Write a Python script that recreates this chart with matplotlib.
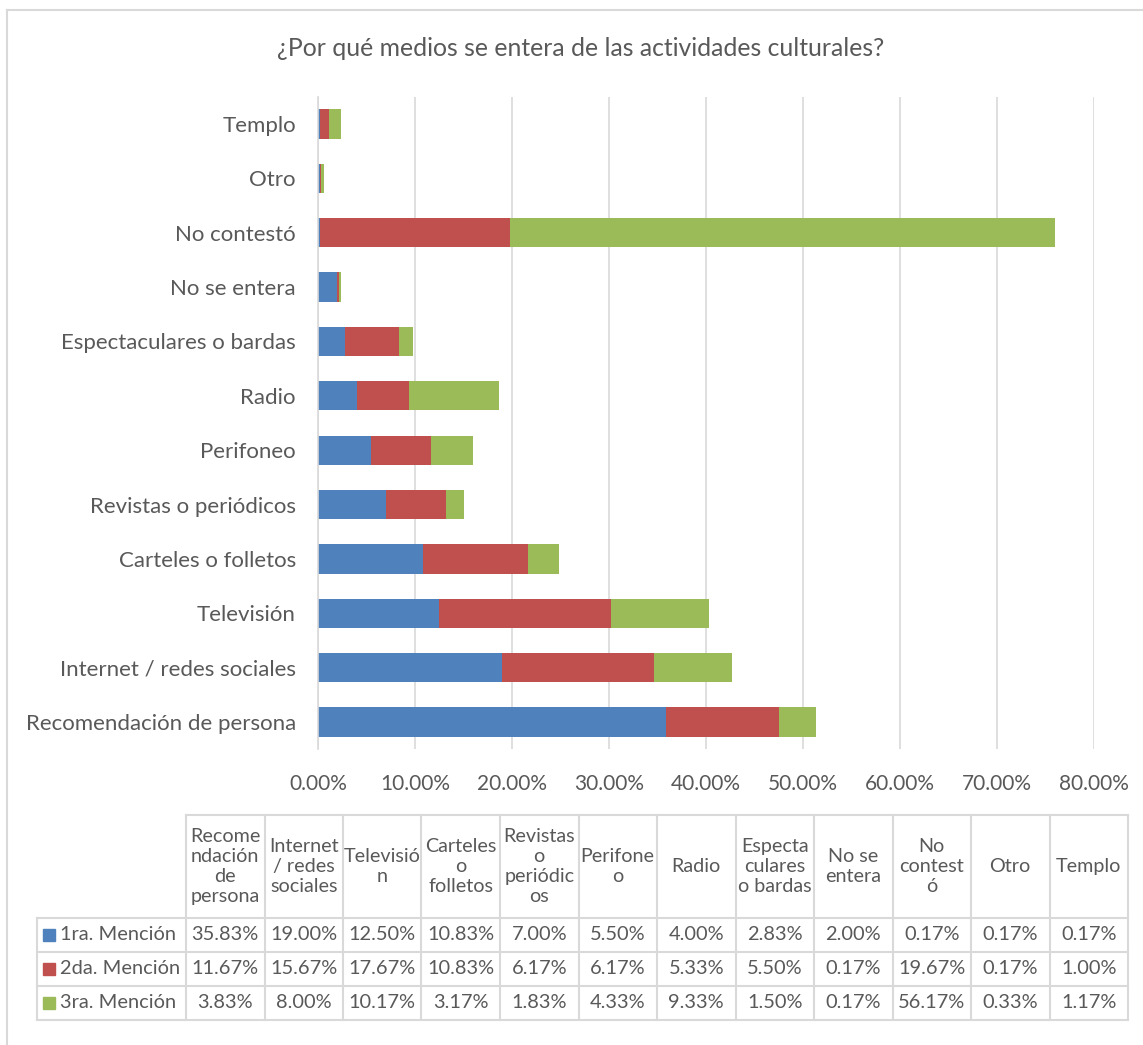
import numpy as np
import matplotlib
matplotlib.use("Agg")
import matplotlib.pyplot as plt
from matplotlib.lines import Line2D
from matplotlib.patches import Rectangle

plt.rcParams['font.family'] = ['Lato', 'DejaVu Sans']

# data (bottom to top as drawn)
categorias = ["Recomendación de persona", "Internet / redes sociales", "Televisión",
              "Carteles o folletos", "Revistas o periódicos", "Perifoneo", "Radio",
              "Espectaculares o bardas", "No se entera", "No contestó", "Otro", "Templo"]
encabezados = ["Recome\nndación\nde\npersona", "Internet\n/ redes\nsociales", "Televisió\nn",
               "Carteles\no\nfolletos", "Revistas\no\nperiódic\nos", "Perifone\no", "Radio",
               "Especta\nculares\no bardas", "No se\nentera", "No\ncontest\nó", "Otro", "Templo"]
series = ["1ra. Mención", "2da. Mención", "3ra. Mención"]
primera = [35.83, 19.00, 12.50, 10.83, 7.00, 5.50, 4.00, 2.83, 2.00, 0.17, 0.17, 0.17]
segunda = [11.67, 15.67, 17.67, 10.83, 6.17, 6.17, 5.33, 5.50, 0.17, 19.67, 0.17, 1.00]
tercera = [3.83, 8.00, 10.17, 3.17, 1.83, 4.33, 9.33, 1.50, 0.17, 56.17, 0.33, 1.17]
colores = ["#4F81BD", "#C0504D", "#9BBB59"]

W, H = 1143, 1045
fig = plt.figure(figsize=(W / 100, H / 100), dpi=100)
txt = "#595959"
grid = "#D9D9D9"

# chart area, px -> figure fraction
left, right, top, bottom = 318, 1094, 96.8, 749.2
ax = fig.add_axes([left / W, 1 - bottom / H, (right - left) / W, (bottom - top) / H])

y = np.arange(len(categorias))
valores = [np.array(primera) / 100, np.array(segunda) / 100, np.array(tercera) / 100]
base = np.zeros(len(categorias))
for v, c, s in zip(valores, colores, series):
    ax.barh(y, v, left=base, height=0.54, color=c, label=s, zorder=2)
    base += v

ax.set_xlim(0, 0.8)
ax.set_ylim(-0.5, len(categorias) - 0.5)
ax.set_xticks(np.arange(0, 0.81, 0.1))
ax.set_xticklabels([f"{t * 100:.2f}%" for t in np.arange(0, 0.81, 0.1)])
ax.set_yticks(y)
ax.set_yticklabels(categorias)
ax.grid(axis="x", color=grid, lw=1.2, zorder=0)
for sp in ["top", "right", "bottom"]:
    ax.spines[sp].set_visible(False)
ax.spines["left"].set_color(grid)
ax.spines["left"].set_linewidth(1.2)
ax.tick_params(axis="both", length=0, colors=txt)
ax.tick_params(axis="x", pad=18, labelsize=15)
ax.tick_params(axis="y", pad=16, labelsize=16)

fig.text(581 / W, 1 - 48 / H, "¿Por qué medios se entera de las actividades culturales?",
         ha="center", va="center", fontsize=17.8, color=txt)

# data table below the chart
cols = [186 + 78.5 * i for i in range(len(encabezados) + 1)]
leg_left = 37
rows = [815, 918, 952, 986, 1020]
tc = "#D9D9D9"


def fx(px):
    return px / W


def fy(py):
    return 1 - py / H


def hline(x0, x1, yy):
    fig.add_artist(Line2D([fx(x0), fx(x1)], [fy(yy), fy(yy)], color=tc, lw=1.5))


def vline(xx, y0, y1):
    fig.add_artist(Line2D([fx(xx), fx(xx)], [fy(y0), fy(y1)], color=tc, lw=1.5))


hline(cols[0], cols[-1], rows[0])
for r in rows[1:]:
    hline(leg_left, cols[-1], r)
for cx in cols:
    vline(cx, rows[0], rows[-1])
vline(leg_left, rows[1], rows[-1])

for i, h in enumerate(encabezados):
    fig.text(fx((cols[i] + cols[i + 1]) / 2), fy((rows[0] + rows[1]) / 2), h,
             ha="center", va="center", fontsize=14.2, color=txt, linespacing=1.2)

for j, (v, c, s) in enumerate(zip(valores, colores, series)):
    yc = (rows[j + 1] + rows[j + 2]) / 2
    fig.add_artist(Rectangle((fx(leg_left + 6), fy(yc + 6)), 12 / W, 12 / H,
                             color=c, transform=fig.transFigure))
    fig.text(fx(leg_left + 23), fy(yc), s, ha="left", va="center", fontsize=14.4, color=txt)
    for i, val in enumerate(v):
        fig.text(fx((cols[i] + cols[i + 1]) / 2), fy(yc), f"{val * 100:.2f}%",
                 ha="center", va="center", fontsize=14.4, color=txt)

# outer chart border (cropped at right/bottom)
fig.add_artist(Line2D([fx(7), fx(W)], [fy(10), fy(10)], color=tc, lw=1.5))
fig.add_artist(Line2D([fx(7), fx(7)], [fy(10), fy(H)], color=tc, lw=1.5))

fig.savefig("out.png", dpi=100, facecolor="white")
